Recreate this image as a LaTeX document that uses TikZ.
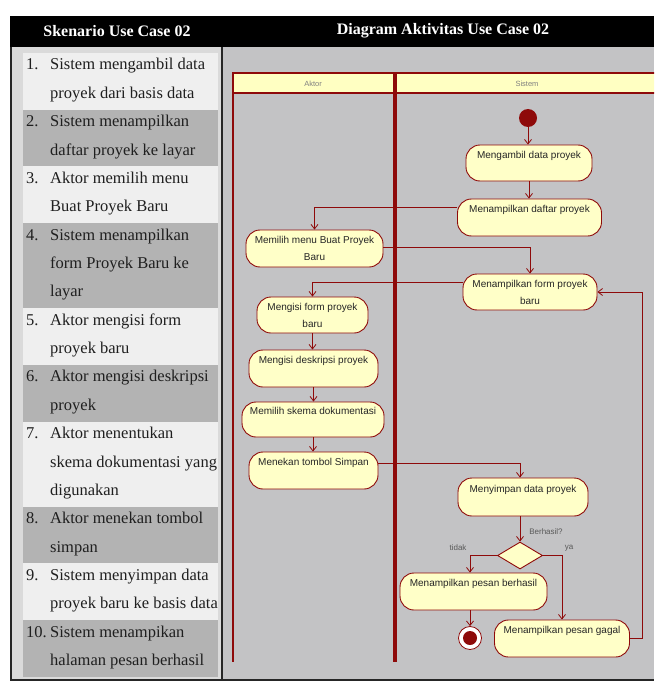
\documentclass[tikz,border=0pt]{standalone}
\usepackage{fontspec}
\setmainfont{Liberation Serif}
\newfontfamily\umlfont{Liberation Sans}
\usetikzlibrary{arrows.meta,shapes.geometric,calc}

\definecolor{umlred}{HTML}{8E0A0A}
\definecolor{umlfill}{HTML}{FFFFC8}
\definecolor{lanehead}{HTML}{FFFFC2}
\definecolor{panelgray}{HTML}{C3C3C5}
\definecolor{rowlight}{HTML}{EFEFEF}
\definecolor{rowdark}{HTML}{B3B3B3}
\definecolor{colgray}{HTML}{DADADA}

\tikzset{
  act/.style 2 args={draw=umlred, line width=0.9pt, fill=umlfill,
    rounded corners=14pt, align=center, inner sep=0pt,
    minimum width=#1pt, minimum height=#2pt,
    font=\umlfont\fontsize{10}{17}\selectfont, text=black!85},
  flow/.style={draw=umlred, line width=0.8pt,
    -{Straight Barb[length=4.5pt,width=7pt]}},
  lane/.style={draw=umlred, line width=2pt},
  guard/.style={font=\umlfont\fontsize{8}{9}\selectfont, text=black!65, inner sep=0pt},
  lanelabel/.style={font=\umlfont\fontsize{7.5}{9}\selectfont, text=black!50, inner sep=0pt},
  stepnum/.style={anchor=base west, inner sep=0pt,
    font=\fontsize{16.5}{20}\selectfont, text=black!88},
  steptext/.style={anchor=base west, inner sep=0pt,
    font=\fontsize{16.5}{20}\selectfont, text=black!88},
  headtext/.style={font=\bfseries\fontsize{16}{19}\selectfont, text=white}
}

\begin{document}
\begin{tikzpicture}[x=1pt,y=-1pt]
\useasboundingbox (0,0) rectangle (654,682);

% table body and header
\fill[black] (10,16) rectangle (654,47);
\fill[colgray] (11,47) rectangle (222,680);
\fill[panelgray] (222,47) rectangle (654,680);
\node[headtext] (hleft) at (117,31) {Skenario Use Case 02};
\node[headtext] (hright) at (443,31) {Diagram Aktivitas Use Case 02};

% scenario rows: first line index / number of lines / shade
\foreach \first/\n/\shade in {0/2/rowlight,2/2/rowdark,4/2/rowlight,6/3/rowdark,
  9/2/rowlight,11/2/rowdark,13/3/rowlight,16/2/rowdark,18/2/rowlight,20/2/rowdark}{
  \fill[\shade] (23,{53+28.36*\first}) rectangle (218,{53+28.36*(\first+\n)});
}

% step numbers
\foreach \ln/\num in {0/1.,2/2.,4/3.,6/4.,9/5.,11/6.,13/7.,16/8.,18/9.,20/10.}{
  \node[stepnum] (num\ln) at (26,{70+28.36*\ln}) {\num};
}
% step text, one node per printed line
\foreach \ln/\txt in {
  0/{Sistem mengambil data},
  1/{proyek dari basis data},
  2/{Sistem menampilkan},
  3/{daftar proyek ke layar},
  4/{Aktor memilih menu},
  5/{Buat Proyek Baru},
  6/{Sistem menampilkan},
  7/{form Proyek Baru ke},
  8/{layar},
  9/{Aktor mengisi form},
  10/{proyek baru},
  11/{Aktor mengisi deskripsi},
  12/{proyek},
  13/{Aktor menentukan},
  14/{skema dokumentasi yang},
  15/{digunakan},
  16/{Aktor menekan tombol},
  17/{simpan},
  18/{Sistem menyimpan data},
  19/{proyek baru ke basis data},
  20/{Sistem menampikan},
  21/{halaman pesan berhasil}}{
  \node[steptext] (line\ln) at (50,{70+28.36*\ln}) {\txt};
}

% swimlanes
\begin{scope}
\clip (222,47) rectangle (654,680);
\fill[lanehead] (233,73) rectangle (660,93);
\draw[lane] (660,73) -- (233,73) -- (233,662);
\draw[lane] (233,93) -- (660,93);
\draw[umlred, line width=3.2pt] (395,73) -- (395,662);
\node[lanelabel] (laneA) at (313,83.5) {Aktor};
\node[lanelabel] (laneS) at (527,83.5) {Sistem};
\end{scope}

% activities
\node[circle, fill=umlred, minimum size=18pt, inner sep=0pt] (start) at (528,118) {};
\node[act={126}{36}] (ambil) at (529,163) {Mengambil data proyek\\\mbox{}};
\node[act={144}{37}] (daftar) at (529.5,217.5) {Menampilkan daftar proyek\\\mbox{}};
\node[act={137}{37}] (menu) at (314.5,248.5) {Memilih menu Buat Proyek\\Baru};
\node[act={134}{36}] (formsis) at (530,292) {Menampilkan form proyek\\baru};
\node[act={111}{36}] (isiform) at (312.5,315) {Mengisi form proyek\\baru};
\node[act={129}{37}] (deskripsi) at (313.5,368.5) {Mengisi deskripsi proyek\\\mbox{}};
\node[act={142}{35}] (skema) at (313,419.5) {Memilih skema dokumentasi\\\mbox{}};
\node[act={129}{37}] (tekan) at (313.5,470.5) {Menekan tombol Simpan\\\mbox{}};
\node[act={130}{38}] (simpan) at (523,497) {Menyimpan data proyek\\\mbox{}};
\node[diamond, draw=umlred, fill=umlfill, line width=0.9pt, inner sep=0pt,
  minimum width=45pt, minimum height=27pt] (dec) at (520,555.5) {};
\node[act={147}{37}] (berhasil) at (473.5,591.5) {Menampilkan pesan berhasil\\\mbox{}};
\node[act={135}{37}] (gagal) at (562,638.5) {Menampilkan pesan gagal\\\mbox{}};
\node[circle, draw=umlred, fill=white, line width=0.8pt, minimum size=23pt, inner sep=0pt] (end) at (470,638) {};
\node[circle, fill=umlred, minimum size=14pt, inner sep=0pt] (endcore) at (end) {};

% guards
\node[guard] (lblcek) at (546,532) {Berhasil?};
\node[guard] (lbltidak) at (458,548) {tidak};
\node[guard] (lblya) at (569,548) {ya};

% control flow
\draw[flow] (start.south) -- (start.south |- ambil.north);
\draw[flow] (ambil.south) -- (ambil.south |- daftar.north);
\draw[flow] ([yshift=10.5pt]daftar.west) -| (menu.north);
\draw[flow] ([yshift=1.5pt]menu.east) -| (formsis.north);
\draw[flow] ([yshift=10pt]formsis.west) -| (isiform.north);
\draw[flow] (isiform.south) -- (isiform.south |- deskripsi.north);
\draw[flow] (deskripsi.south) -- (deskripsi.south |- skema.north);
\draw[flow] (skema.south) -- (skema.south |- tekan.north);
\draw[flow] ([yshift=7.5pt]tekan.east) -| (dec |- simpan.north);
\draw[flow] (dec |- simpan.south) -- (dec.north);
\draw[flow] (dec.west) -| (end |- berhasil.north);
\draw[flow] (dec.east) -| (gagal.north);
\draw[flow] (end |- berhasil.south) -- (end.north);
\draw[flow] (gagal.east) -- ++(12,0) |- (formsis.east);

% table rules
\draw[black!85, line width=1.5pt] (11,47) -- (11,680) -- (654,680);
\draw[black!85, line width=1.2pt] (222,47) -- (222,680);
\end{tikzpicture}
\end{document}
